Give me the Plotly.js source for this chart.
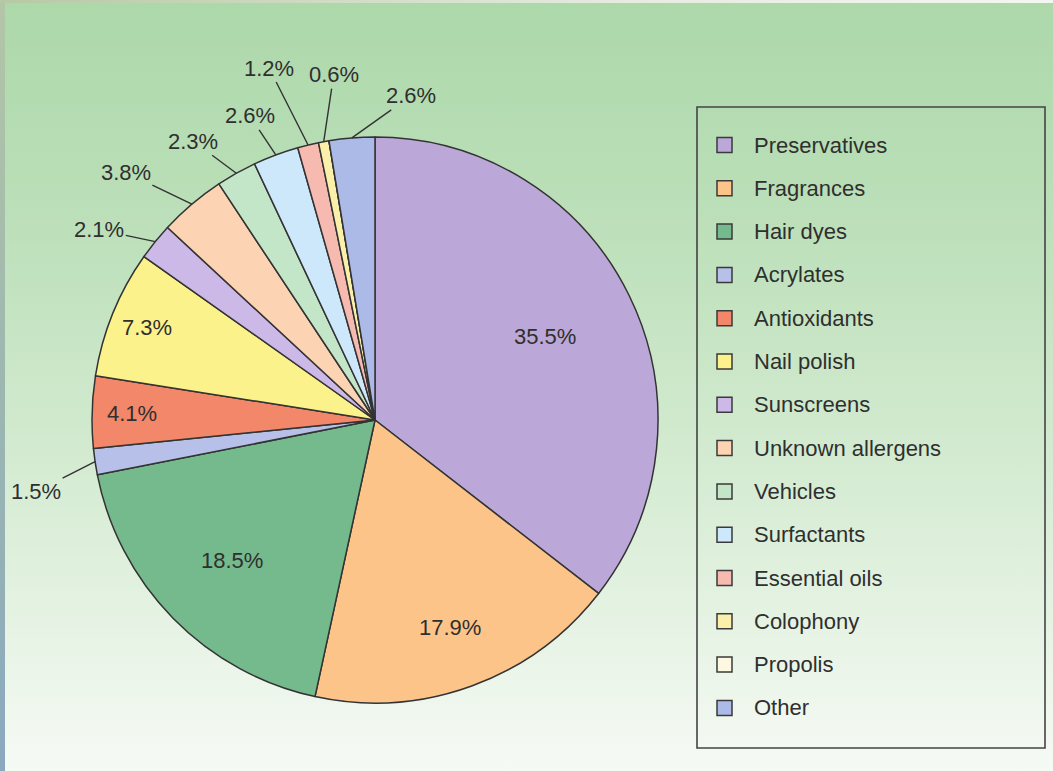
<!DOCTYPE html>
<html><head><meta charset="utf-8">
<script src="https://cdn.plot.ly/plotly-3.0.1.min.js"></script>
<style>
html,body{margin:0;padding:0;}
body{width:1053px;height:771px;overflow:hidden;position:relative;background:linear-gradient(to bottom,#acd8aa 0%,#bde0ba 30%,#d4ebd1 60%,#f6faf5 100%);}
#strip{position:absolute;left:0;top:0;width:5px;height:771px;background:linear-gradient(to bottom,#b3c6a6,#9db7b0 50%,#8aa9bf);}
#topband{position:absolute;left:0;top:0;width:1053px;height:3px;background:linear-gradient(to right,#b6c9a4,#e6ece0 60%,#f4f6f0);}
#chart{position:absolute;left:0;top:0;width:1053px;height:771px;}
</style></head><body>
<div id="strip"></div><div id="topband"></div><div id="chart"></div>
<script>
// ---- data ----
const labels = ["Preservatives","Fragrances","Hair dyes","Acrylates","Antioxidants","Nail polish","Sunscreens","Unknown allergens","Vehicles","Surfactants","Essential oils","Colophony","Propolis","Other"];
const values = [35.5, 17.9, 18.5, 1.5, 4.1, 7.3, 2.1, 3.8, 2.3, 2.6, 1.2, 0.6, 0, 2.6];
const colors = ["#bba8d8","#fcc489","#74ba8c","#b6c0e8","#f28769","#fcf28c","#cdb9e8","#fcd4b4","#c4e6c8","#cde8fa","#f6bab0","#faf0aa","#fcf8e1","#acbae8"];

// ---- label styling (placement only) ----
const labelStyle = [
  {inside:true, f:0.67},
  {inside:true, f:0.78},
  {inside:true, f:0.71},
  {inside:false, ax:-59, ay:30},
  {inside:true, f:0.86},
  {inside:true, f:0.87},
  {inside:false, ax:-56, ay:-12},
  {inside:false, ax:-66, ay:-32},
  {inside:false, ax:-43, ay:-32},
  {inside:false, ax:-26, ay:-39},
  {inside:false, ax:-39, ay:-77},
  {inside:false, ax:10, ay:-67},
  null,
  {inside:false, ax:59, ay:-42}
];

const W = 1053, H = 771, CX = 375, CY = 420, R = 283;
const px = x => x / W, py = y => 1 - y / H;
const FONT = "'Liberation Sans', Arial, Helvetica, sans-serif";
const TXT = "#2f2f2f";

const total = values.reduce((a, b) => a + b, 0);
const annotations = [];
const shapes = [];
let cum = 0;
values.forEach((v, i) => {
  const mid = (cum + v / 2) / total * 2 * Math.PI;
  cum += v;
  const st = labelStyle[i];
  if (!st || v <= 0) return;
  const s = Math.sin(mid), c = Math.cos(mid);
  const txt = v.toFixed(1) + '%';
  if (st.inside) {
    annotations.push({xref:'paper', yref:'paper', x:px(CX + R*st.f*s), y:py(CY - R*st.f*c),
      text:txt, showarrow:false, xanchor:'center', yanchor:'middle',
      font:{family:FONT, size:22, color:TXT}});
  } else {
    annotations.push({xref:'paper', yref:'paper', x:px(CX + R*s), y:py(CY - R*c),
      text:txt, showarrow:true, arrowhead:0, arrowwidth:1.4, arrowcolor:'#333333',
      ax:st.ax, ay:st.ay, standoff:0,
      font:{family:FONT, size:22, color:TXT}});
  }
});

// ---- legend (built from labels/colors) ----
const LX0 = 697, LX1 = 1045, LY0 = 107, LY1 = 748, ITEM0 = 145, STEP = 43.3;
shapes.push({type:'rect', xref:'paper', yref:'paper', x0:px(LX0), x1:px(LX1), y0:py(LY1), y1:py(LY0),
  line:{color:'#444444', width:1.6}, fillcolor:'rgba(0,0,0,0)'});
labels.forEach((lab, i) => {
  const yc = ITEM0 + i * STEP;
  shapes.push({type:'rect', xref:'paper', yref:'paper', x0:px(717), x1:px(732), y0:py(yc + 7.5), y1:py(yc - 7.5),
    fillcolor:colors[i], line:{color:'#3a3a3a', width:1.5}});
  annotations.push({xref:'paper', yref:'paper', x:px(752), y:py(yc), xanchor:'left', yanchor:'middle',
    text:lab, showarrow:false, font:{family:FONT, size:22, color:TXT}});
});

const trace = {
  type:'pie', labels:labels, values:values, sort:false, direction:'clockwise', rotation:0,
  marker:{colors:colors, line:{color:'#333333', width:1.5}},
  textinfo:'none', hoverinfo:'label+percent', showlegend:false,
  domain:{x:[px(CX - R), px(CX + R)], y:[py(CY + R), py(CY - R)]}
};

const layout = {
  width:W, height:H, margin:{l:0, r:0, t:0, b:0},
  paper_bgcolor:'rgba(0,0,0,0)', plot_bgcolor:'rgba(0,0,0,0)',
  showlegend:false, annotations:annotations, shapes:shapes,
  font:{family:FONT, color:TXT}
};
Plotly.newPlot('chart', [trace], layout, {displayModeBar:false, staticPlot:true});
</script>
</body></html>
